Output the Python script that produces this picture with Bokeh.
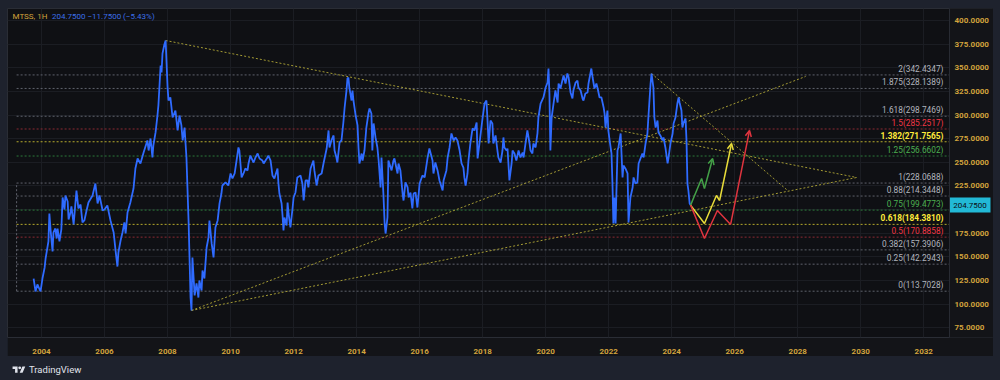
from bokeh.plotting import figure
from bokeh.models import (Range1d, LinearAxis, FixedTicker, NumeralTickFormatter, Label,
                          Arrow, OpenHead, ColumnDataSource, Div, Grid, Span, GlobalInlineStyleSheet)
from bokeh.layouts import column
from bokeh.embed import file_html
from bokeh.resources import INLINE
from bokeh.core.properties import value

# ---------------- data ----------------
dates = [
 2003.75,2003.81,2003.87,2003.94,2003.97,2004.03,2004.10,2004.13,2004.22,2004.25,2004.29,2004.35,2004.38,
 2004.44,2004.48,2004.51,2004.57,2004.63,2004.67,2004.73,2004.76,2004.83,2004.86,2004.92,2004.95,2005.02,
 2005.11,2005.17,2005.24,2005.30,2005.36,2005.43,2005.49,2005.62,2005.71,2005.78,2005.84,2005.94,2006.00,
 2006.09,2006.19,2006.29,2006.35,2006.41,2006.44,2006.51,2006.57,2006.63,2006.67,2006.73,2006.82,2006.92,
 2006.98,2007.05,2007.14,2007.24,2007.36,2007.40,2007.46,2007.52,2007.55,2007.62,2007.68,2007.71,2007.78,
 2007.81,2007.84,2007.90,2007.94,
 2008.00,2008.03,2008.09,2008.16,2008.25,2008.32,2008.38,2008.44,2008.48,2008.54,2008.60,2008.67,2008.73,
 2008.76,2008.79,2008.86,2008.92,2008.98,2009.01,2009.08,2009.11,2009.17,2009.24,2009.30,2009.33,2009.40,
 2009.46,2009.52,2009.59,2009.65,2009.71,2009.74,2009.84,2009.93,2010.00,2010.06,2010.13,2010.19,2010.25,
 2010.28,2010.35,2010.41,2010.47,2010.54,2010.57,
 2010.63,2010.73,2010.79,2010.86,2010.92,2011.01,2011.05,2011.17,2011.20,2011.27,2011.33,2011.39,2011.49,
 2011.52,2011.55,2011.62,2011.65,2011.68,2011.71,2011.78,2011.81,2011.84,2011.90,2011.97,2012.00,2012.06,
 2012.12,2012.22,2012.28,2012.32,2012.38,2012.44,2012.47,2012.54,2012.63,2012.66,2012.73,2012.79,2012.89,
 2012.95,2013.05,2013.11,2013.14,2013.20,2013.27,2013.30,2013.36,2013.39,2013.46,2013.52,2013.58,2013.62,
 2013.68,2013.71,2013.74,2013.77,2013.84,2013.87,2013.90,2013.97,2014.03,2014.06,2014.09,2014.16,2014.19,
 2014.25,2014.31,2014.38,2014.41,2014.47,2014.50,2014.54,2014.60,2014.66,2014.70,2014.76,2014.79,2014.85,
 2014.89,2014.92,2014.98,2015.01,2015.11,2015.17,2015.20,2015.30,2015.33,2015.39,2015.46,2015.49,2015.55,
 2015.62,2015.65,2015.71,2015.77,2015.81,2015.87,2015.93,2016.00,2016.09,2016.16,2016.25,2016.31,2016.41,
 2016.44,2016.50,2016.57,2016.63,2016.73,2016.76,2016.85,2016.89,2016.95,2017.01,2017.08,2017.14,2017.20,
 2017.27,2017.33,2017.39,2017.42,2017.46,2017.52,2017.55,2017.61,2017.68,2017.74,2017.81,2017.84,2017.90,
 2018.00,2018.06,2018.12,2018.15,2018.19,2018.25,2018.31,2018.34,2018.41,2018.47,2018.50,2018.57,2018.63,
 2018.66,2018.69,2018.76,2018.79,2018.85,2018.92,2018.95,2019.01,2019.07,2019.14,2019.20,2019.27,2019.30,
 2019.36,2019.42,2019.49,2019.52,2019.58,2019.61,2019.68,2019.74,2019.77,2019.84,2019.93,2020.00,2020.06,
 2020.09,2020.12,2020.15,2020.19,2020.25,2020.31,2020.38,2020.41,2020.47,2020.53,2020.57,2020.63,2020.69,
 2020.73,2020.79,2020.85,2020.88,2020.95,2021.01,2021.04,2021.11,2021.17,2021.20,2021.26,2021.33,2021.36,
 2021.42,2021.45,2021.49,2021.55,2021.61,2021.65,2021.71,2021.77,2021.84,2021.87,2021.90,2021.96,2021.99,
 2022.03,2022.09,2022.12,2022.15,2022.18,2022.22,2022.28,2022.31,2022.38,2022.44,2022.47,2022.53,2022.60,
 2022.63,2022.69,2022.76,2022.79,2022.85,2022.91,2022.95,2023.01,2023.07,2023.11,2023.17,2023.23,2023.26,
 2023.33,2023.36,2023.42,2023.45,2023.49,2023.55,2023.58,2023.64,2023.71,2023.74,2023.80,2023.87,2023.90,
 2023.96,2024.03,2024.06,2024.12,2024.18,2024.22,2024.25,2024.31,2024.34,2024.37,2024.44,2024.47,2024.50,
 2024.53,2024.57,2024.60]
prices = [
 127.1,113.4,120.8,115.5,113.4,127.1,138.8,148.3,166.3,195.9,177.9,155.7,175.8,
 180.0,169.4,180.0,166.3,179.0,212.8,200.1,214.9,208.6,189.5,196.9,203.3,184.3,
 220.2,201.2,205.4,186.4,188.5,199.1,207.5,214.9,227.6,206.5,214.9,199.1,200.1,
 204.3,188.5,175.8,156.8,139.8,154.6,167.3,175.8,186.4,174.7,196.9,207.5,222.3,
 243.5,254.1,248.8,260.4,273.1,262.5,275.2,255.1,267.8,281.6,299.5,310.1,352.4,
 345.0,365.1,374.6,378.85,
 330.2,315.4,318.6,297.4,304.8,283.7,299.5,289.0,273.1,286.8,255.1,185.3,107.0,
 93.3,149.4,109.2,121.9,107.0,125.0,114.5,135.6,127.1,159.9,170.5,188.5,164.2,
 149.4,181.1,188.5,206.5,217.0,225.5,228.7,225.5,238.2,232.9,238.2,251.9,265.7,
 262.5,234.0,238.2,243.5,241.4,248.8,
 257.2,249.8,255.1,259.3,254.1,251.9,248.8,255.1,257.2,251.9,236.1,232.9,243.5,
 227.6,217.0,206.5,193.8,177.9,191.7,183.2,207.5,195.9,181.1,202.2,212.8,218.1,
 234.0,236.1,227.6,209.6,230.8,230.8,223.4,243.5,251.9,241.4,225.5,236.1,238.2,
 248.8,264.6,283.7,265.7,273.1,278.4,262.5,255.1,249.8,271.0,273.1,292.1,308.0,
 326.0,338.7,339.7,329.1,315.4,326.0,315.4,299.5,289.0,265.7,248.8,259.3,251.9,
 262.5,286.8,302.7,306.9,301.6,262.5,291.1,276.3,265.7,251.9,223.4,255.1,217.0,
 185.3,174.7,191.7,251.9,241.4,251.9,254.1,238.2,248.8,241.4,217.0,209.6,228.7,
 223.4,212.8,218.1,201.2,217.0,218.1,202.2,227.6,236.1,234.0,254.1,264.6,251.9,
 238.2,249.8,241.4,230.8,220.2,230.8,241.4,255.1,265.7,280.5,273.1,276.3,273.1,
 262.5,248.8,244.5,234.0,225.5,238.2,251.9,269.9,285.8,283.7,292.1,254.1,269.9,
 297.4,312.2,315.4,297.4,269.9,294.2,291.1,269.9,278.4,262.5,255.1,249.8,262.5,
 276.3,265.7,262.5,264.6,230.8,248.8,262.5,259.3,251.9,262.5,255.1,260.4,255.1,
 269.9,283.7,269.9,262.5,259.3,269.9,265.7,280.5,297.4,312.2,318.6,329.1,334.4,
 349.2,322.8,262.5,297.4,312.2,326.0,313.3,333.4,328.1,336.5,341.8,333.4,343.9,
 339.7,323.9,317.5,326.0,334.4,336.5,329.1,326.0,317.5,315.4,322.8,323.9,333.4,
 343.9,349.2,339.7,328.1,333.4,328.1,318.6,318.6,308.0,301.6,286.8,304.8,283.7,
 273.1,259.3,227.6,185.3,212.8,185.3,262.5,265.7,280.5,234.0,246.6,243.5,238.2,
 186.4,212.8,223.4,234.0,227.6,228.7,248.8,254.1,259.3,255.1,269.9,280.5,297.4,
 333.4,343.9,329.1,297.4,286.8,294.2,281.6,278.4,273.1,276.3,265.7,248.8,255.1,
 269.9,280.5,291.1,297.4,312.2,318.6,313.3,304.8,286.8,291.1,296.4,273.1,227.6,
 220.2,206.5,204.75]

last_price = 204.75
change = -11.75
change_pct = -5.43

fib_ratios = ["0", "0.25", "0.382", "0.5", "0.618", "0.75", "0.88", "1",
              "1.25", "1.382", "1.5", "1.618", "1.875", "2"]
fib_prices = [113.7028, 142.2943, 157.3906, 170.8858, 184.3810, 199.4773, 214.3448, 228.0688,
              256.6602, 271.7565, 285.2517, 298.7469, 328.1389, 342.4347]
fib_kind = ["grey", "grey", "grey", "red", "yellow", "green", "grey", "grey",
            "green", "yellow", "red", "grey", "grey", "grey"]
fib_x_start = 2003.21
fib_x_end = 2032.80

trend_x0 = [2007.94, 2008.76, 2008.76, 2023.36]
trend_y0 = [378.85, 93.3, 93.3, 343.9]
trend_x1 = [2029.87, 2029.87, 2028.25, 2027.68]
trend_y1 = [233.95, 233.95, 340.8, 220.2]

green_x = [2024.60, 2024.95, 2025.04, 2025.30]
green_y = [204.75, 232.9, 222.3, 254.0]
yellow_x = [2024.60, 2025.04, 2025.42, 2025.52, 2025.90]
yellow_y = [204.75, 185.3, 214.9, 209.6, 269.9]
red_x = [2024.60, 2025.04, 2025.45, 2025.87, 2026.47]
red_y = [204.75, 169.4, 199.1, 184.3, 283.7]

price_ticks = [75, 100, 125, 150, 175, 200, 225, 250, 275, 300, 325, 350, 375, 400]
year_ticks = [2004, 2006, 2008, 2010, 2012, 2014, 2016, 2018, 2020, 2022, 2024, 2026, 2028, 2030, 2032]

# ---------------- layout constants ----------------
X0, X1 = 2002.921, 2034.213       # full panel width (chart + price scale)
SCALE_X = 2032.816                # left edge of the price scale
Y0, Y1 = 64.73, 412.69

FONT = "Roboto"
AMBER = "#d2a33c"
BLUE = "#2f6bff"
PANEL = "#131418"
line_col = {"grey": "#5f626c", "red": "#8c2a33", "yellow": "#b5aa2c", "green": "#2c7a3a"}
text_col = {"grey": "#b2b5be", "red": "#f23645", "yellow": "#ffeb3b", "green": "#4caf50"}
text_style = {"grey": "normal", "red": "normal", "yellow": "bold", "green": "normal"}

p = figure(width=986, height=348, output_backend="svg", toolbar_location=None,
           x_range=Range1d(X0, X1), y_range=Range1d(Y0, Y1),
           x_axis_location=None, y_axis_location=None,
           min_border_left=0, min_border_top=0, min_border_right=0, min_border_bottom=19)
p.background_fill_color = "#0f1014"
p.border_fill_color = PANEL
p.outline_line_color = "#2a2d35"
p.grid.visible = False

p.add_layout(Grid(dimension=0, ticker=FixedTicker(ticks=year_ticks),
                  grid_line_color="#1b1d23", grid_line_width=1))
p.add_layout(Grid(dimension=1, ticker=FixedTicker(ticks=price_ticks),
                  grid_line_color="#1b1d23", grid_line_width=1))

xa = LinearAxis(ticker=FixedTicker(ticks=year_ticks), formatter=NumeralTickFormatter(format="0"))
xa.axis_line_color = None
xa.major_tick_line_color = None
xa.minor_tick_line_color = None
xa.major_label_text_color = AMBER
xa.major_label_text_font = FONT
xa.major_label_text_font_size = "8px"
xa.major_label_text_font_style = "bold"
xa.major_label_standoff = 5
p.add_layout(xa, "below")

# fib levels
fib_src = ColumnDataSource(dict(
    x0=[fib_x_start] * len(fib_prices), x1=[fib_x_end] * len(fib_prices), y=fib_prices,
    lc=[line_col[k] for k in fib_kind], tc=[text_col[k] for k in fib_kind],
    ts=[text_style[k] for k in fib_kind],
    lab=[f"{r}({v:.4f})" for r, v in zip(fib_ratios, fib_prices)],
    tx=[2032.626] * len(fib_prices)))
p.segment(x0="x0", y0="y", x1="x1", y1="y", line_color="lc", line_width=1,
          line_dash="2 2", source=fib_src)
p.segment(x0=[fib_x_start], y0=[fib_prices[0]], x1=[fib_x_start], y1=[fib_prices[7]],
          line_color=line_col["grey"], line_width=1, line_dash="2 2")
p.text(x="tx", y="y", text="lab", text_color="tc", text_font_style="ts", source=fib_src,
       text_align="right", text_baseline="bottom", y_offset=-1,
       text_font=value(FONT), text_font_size="8.3px")

# trend lines
p.segment(x0=trend_x0, y0=trend_y0, x1=trend_x1, y1=trend_y1, line_color="#a39a34",
          line_width=1, line_dash="2 2")

# price
p.line(dates, prices, line_color=BLUE, line_width=1.8)

# projections
for xs, ys, c in ((green_x, green_y, "#43a047"), (yellow_x, yellow_y, "#e8dc3a"), (red_x, red_y, "#e0343f")):
    p.line(xs[:-1], ys[:-1], line_color=c, line_width=1.5)
    p.add_layout(Arrow(x_start=xs[-2], y_start=ys[-2], x_end=xs[-1], y_end=ys[-1],
                       line_color=c, line_width=1.5,
                       end=OpenHead(size=6, line_color=c, line_width=1.5)))

# price scale (right)
p.quad(left=[SCALE_X], right=[X1 + 1], bottom=[Y0 - 10], top=[Y1 + 10],
       fill_color=PANEL, line_color=None)
p.add_layout(Span(location=SCALE_X, dimension="height", line_color="#2a2d35", line_width=1))
p.text(x=[2032.975] * len(price_ticks), y=price_ticks,
       text=[f"{t:.4f}" for t in price_ticks], text_color=AMBER,
       text_font=value(FONT), text_font_size="8px", text_font_style="bold",
       text_align="left", text_baseline="middle")
p.rect(x=[2033.467], y=[last_price], width=41, height=15, width_units="screen",
       height_units="screen", fill_color="#22b9d6", line_color=None)
p.text(x=[2033.467], y=[last_price], text=[f"{last_price:.4f}"], text_color="#0b0d12",
       text_font=value(FONT), text_font_size="8px", text_align="center", text_baseline="middle")

# header
p.add_layout(Label(x=2003.08, y=404.2, text="MTSS, 1H", text_color=AMBER, text_font=FONT,
                   text_font_size="8px", text_baseline="middle"))
p.add_layout(Label(x=2004.33, y=404.2,
                   text=f"{last_price:.4f}  \u2212{abs(change):.4f} (\u2212{abs(change_pct):.2f}%)",
                   text_color="#3b6fe8", text_font=FONT, text_font_size="8px",
                   text_baseline="middle"))

logo = Div(width=986, height=20, text=(
    '<div style="display:flex;align-items:center;gap:3px;margin-top:2px;color:#e0e3eb;'
    'font-family:Roboto;font-size:9.5px">'
    '<svg width="14" height="10" viewBox="0 0 36 28"><path d="M14 22H7V11H0V4h14v18zM28 22h-8l7.5-18h8L28 22z" '
    'fill="#e0e3eb"/><circle cx="20" cy="8" r="4" fill="#e0e3eb"/></svg>'
    '<span>TradingView</span></div>'))

layout = column(p, logo, spacing=0, margin=(8, 0, 0, 7),
                stylesheets=[GlobalInlineStyleSheet(css="html,body{background:#1e222d;}")])

open("out.html", "w").write(file_html(layout, INLINE))
